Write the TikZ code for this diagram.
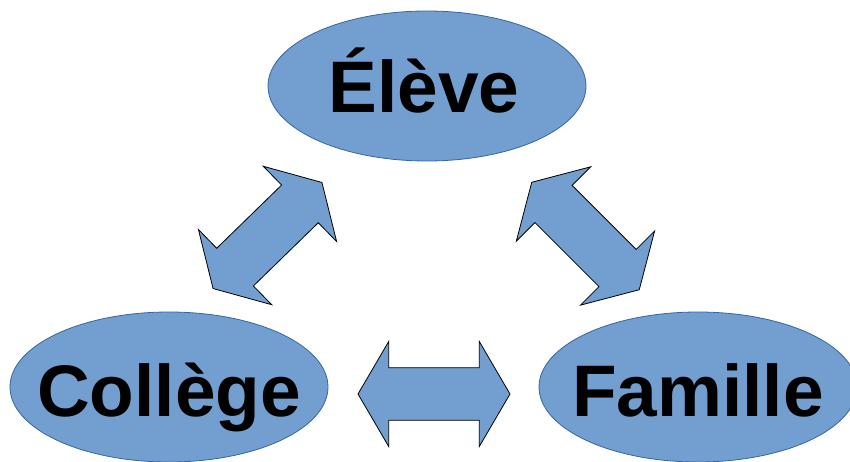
\documentclass[tikz,border=0pt]{standalone}
\usepackage{fontspec}
\setmainfont{Liberation Sans}
\usepackage{tikz}
\usetikzlibrary{shapes.geometric}

\definecolor{bubblefill}{HTML}{729FCF}
\definecolor{bubbleline}{HTML}{3465A4}

\tikzset{
    bubble/.style={ellipse, draw=bubbleline, line width=0.8pt, fill=bubblefill,
        minimum width=318pt, minimum height=150pt, inner sep=0pt},
    word/.style={inner sep=0pt, text height=53pt, text depth=0pt,
        font=\fontsize{73}{80}\selectfont\bfseries},
    blockarrow/.style={draw=black, line width=0.8pt, fill=bubblefill, line join=miter}
}

\begin{document}
\begin{tikzpicture}[x=1pt, y=-1pt]
    \useasboundingbox (0,0) rectangle (850,462);

    % the three partners
    \node[bubble] (eleve) at (427,86) {};
    \node[bubble] (college) at (169,387) {};
    \node[bubble] (famille) at (698,387) {};
    \node[word] (eleve-txt) at ([xshift=-3pt]eleve.center) {Élève};
    \node[word] (college-txt) at ([yshift=-3pt]college.center) {Collège};
    \node[word] (famille-txt) at ([yshift=-3pt]famille.center) {Famille};

    % double block arrows between them
    \foreach \cx/\cy/\ang in {267.5/235.5/44.25, 585.5/236/-45, 434/394/0} {
        \draw[blockarrow, shift={(\cx,\cy)}, rotate=\ang]
            (-76,0) -- (-45.3,-52.5) -- (-45.3,-26.3) -- (45.3,-26.3) -- (45.3,-52.5)
            -- (76,0) -- (45.3,52.5) -- (45.3,26.3) -- (-45.3,26.3) -- (-45.3,52.5) -- cycle;
    }
\end{tikzpicture}
\end{document}
